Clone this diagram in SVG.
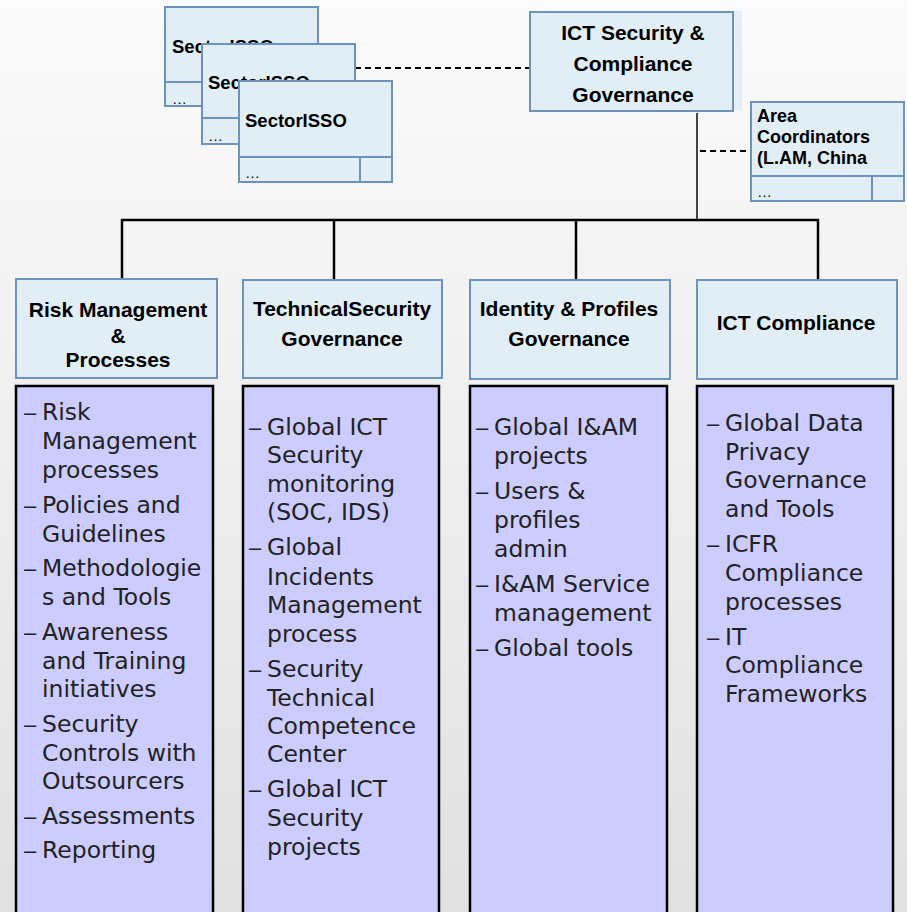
<svg xmlns="http://www.w3.org/2000/svg" width="907" height="912" viewBox="0 0 907 912">
<defs>
<linearGradient id="bg" x1="0" y1="0" x2="0" y2="1">
<stop offset="0" stop-color="#fbfbfb"/>
<stop offset="1" stop-color="#e1e1e1"/>
</linearGradient>
</defs>
<style>
.hbox{fill:#e1eef6;stroke:#6d93bd;stroke-width:2}
.cbox{fill:#ccccff;stroke:#000;stroke-width:2.5}
.ht{font-family:"Liberation Sans",Arial,sans-serif;font-weight:bold;font-size:21px;fill:#000;text-anchor:middle}
.st{font-family:"Liberation Sans",Arial,sans-serif;font-weight:bold;font-size:18.5px;fill:#000}
.at{font-family:"Liberation Sans",Arial,sans-serif;font-weight:bold;font-size:18px;fill:#000}
.el{font-family:"Liberation Sans",Arial,sans-serif;font-size:15px;fill:#000}
.ct{font-family:"DejaVu Sans",Verdana,sans-serif;font-size:23.5px;fill:#222}
.d{font-family:"Liberation Sans",Arial,sans-serif;font-size:22px}
.solid{stroke:#000;stroke-width:2.5;fill:none}
.dash{stroke:#000;stroke-width:2;stroke-dasharray:6 4;fill:none}
</style>
<rect x="0" y="0" width="907" height="912" fill="url(#bg)"/>

<g id="connectors">
<line class="dash" x1="355" y1="68" x2="530" y2="68"/>
<line x1="697" y1="113" x2="697" y2="220" stroke="#444" stroke-width="2"/>
<line class="dash" x1="700" y1="151" x2="750" y2="151"/>
<line class="solid" x1="121" y1="220" x2="819" y2="220"/>
<line class="solid" x1="122" y1="219" x2="122" y2="279"/>
<line class="solid" x1="334" y1="219" x2="334" y2="280"/>
<line class="solid" x1="576" y1="219" x2="576" y2="280"/>
<line class="solid" x1="818" y1="219" x2="818" y2="280"/>
</g>

<g id="sector1">
<rect class="hbox" x="165" y="7" width="153" height="99"/>
<line x1="165" y1="82" x2="318" y2="82" stroke="#6d93bd" stroke-width="2"/>
<line x1="286" y1="82" x2="286" y2="106" stroke="#6d93bd" stroke-width="2"/>
<text class="st" x="172" y="53">SectorISSO</text>
<text class="el" x="172" y="104">…</text>
</g>
<g id="sector2">
<rect class="hbox" x="202" y="44" width="153" height="100"/>
<line x1="202" y1="118" x2="355" y2="118" stroke="#6d93bd" stroke-width="2"/>
<line x1="323" y1="118" x2="323" y2="144" stroke="#6d93bd" stroke-width="2"/>
<text class="st" x="208" y="89">SectorISSO</text>
<text class="el" x="208" y="141">…</text>
</g>
<g id="sector3">
<rect class="hbox" x="239" y="81" width="153" height="101"/>
<line x1="239" y1="157" x2="392" y2="157" stroke="#6d93bd" stroke-width="2"/>
<line x1="360" y1="157" x2="360" y2="182" stroke="#6d93bd" stroke-width="2"/>
<text class="st" x="245" y="127">SectorISSO</text>
<text class="el" x="245" y="178">…</text>
</g>

<g id="ict-governance">
<rect x="536" y="11" width="206" height="99" fill="#e4eef5"/>
<rect class="hbox" x="530" y="12" width="203" height="99"/>
<text class="ht" x="633" y="40">ICT Security &amp;</text>
<text class="ht" x="633" y="71">Compliance</text>
<text class="ht" x="633" y="102">Governance</text>
</g>

<g id="area-coordinators">
<rect class="hbox" x="751" y="102" width="153" height="99"/>
<line x1="751" y1="176" x2="904" y2="176" stroke="#6d93bd" stroke-width="2"/>
<line x1="872" y1="176" x2="872" y2="201" stroke="#6d93bd" stroke-width="2"/>
<text class="at" x="757" y="122">Area</text>
<text class="at" x="757" y="143">Coordinators</text>
<text class="at" x="757" y="164">(L.AM, China</text>
<text class="el" x="757" y="197">…</text>
</g>

<g id="risk-header">
<rect class="hbox" x="16" y="279" width="201" height="99"/>
<text class="ht" x="118" y="317">Risk Management</text>
<text class="ht" x="118" y="343">&amp;</text>
<text class="ht" x="118" y="367">Processes</text>
</g>
<g id="tech-header">
<rect class="hbox" x="243" y="280" width="199" height="98"/>
<text class="ht" x="342" y="316">TechnicalSecurity</text>
<text class="ht" x="342" y="346">Governance</text>
</g>
<g id="identity-header">
<rect class="hbox" x="470" y="280" width="200" height="99"/>
<text class="ht" x="569" y="316">Identity &amp; Profiles</text>
<text class="ht" x="569" y="346">Governance</text>
</g>
<g id="compliance-header">
<rect class="hbox" x="697" y="280" width="200" height="99"/>
<text class="ht" x="796" y="330">ICT Compliance</text>
</g>

<g id="risk-content">
<rect class="cbox" x="16" y="386" width="197" height="540"/>
<text class="ct">
<tspan class="d" x="24" y="420">–</tspan><tspan x="42" y="420">Risk</tspan>
<tspan x="42" y="449">Management</tspan>
<tspan x="42" y="478">processes</tspan>
<tspan class="d" x="24" y="513">–</tspan><tspan x="42" y="513">Policies and</tspan>
<tspan x="42" y="542">Guidelines</tspan>
<tspan class="d" x="24" y="576">–</tspan><tspan x="42" y="576">Methodologie</tspan>
<tspan x="42" y="605">s and Tools</tspan>
<tspan class="d" x="24" y="640">–</tspan><tspan x="42" y="640">Awareness</tspan>
<tspan x="42" y="669">and Training</tspan>
<tspan x="42" y="697">initiatives</tspan>
<tspan class="d" x="24" y="732">–</tspan><tspan x="42" y="732">Security</tspan>
<tspan x="42" y="761">Controls with</tspan>
<tspan x="42" y="789">Outsourcers</tspan>
<tspan class="d" x="24" y="824">–</tspan><tspan x="42" y="824">Assessments</tspan>
<tspan class="d" x="24" y="858">–</tspan><tspan x="42" y="858">Reporting</tspan>
</text>
</g>

<g id="tech-content">
<rect class="cbox" x="243" y="386" width="196" height="540"/>
<text class="ct">
<tspan class="d" x="249" y="435">–</tspan><tspan x="267" y="435">Global ICT</tspan>
<tspan x="267" y="463">Security</tspan>
<tspan x="267" y="492">monitoring</tspan>
<tspan x="267" y="520">(SOC, IDS)</tspan>
<tspan class="d" x="249" y="555">–</tspan><tspan x="267" y="555">Global</tspan>
<tspan x="267" y="585">Incidents</tspan>
<tspan x="267" y="613">Management</tspan>
<tspan x="267" y="642">process</tspan>
<tspan class="d" x="249" y="677">–</tspan><tspan x="267" y="677">Security</tspan>
<tspan x="267" y="706">Technical</tspan>
<tspan x="267" y="734">Competence</tspan>
<tspan x="267" y="762">Center</tspan>
<tspan class="d" x="249" y="797">–</tspan><tspan x="267" y="797">Global ICT</tspan>
<tspan x="267" y="826">Security</tspan>
<tspan x="267" y="855">projects</tspan>
</text>
</g>

<g id="identity-content">
<rect class="cbox" x="470" y="386" width="197" height="540"/>
<text class="ct">
<tspan class="d" x="476" y="435">–</tspan><tspan x="494" y="435">Global I&amp;AM</tspan>
<tspan x="494" y="464">projects</tspan>
<tspan class="d" x="476" y="499">–</tspan><tspan x="494" y="499">Users &amp;</tspan>
<tspan x="494" y="528">profiles</tspan>
<tspan x="494" y="557">admin</tspan>
<tspan class="d" x="476" y="592">–</tspan><tspan x="494" y="592">I&amp;AM Service</tspan>
<tspan x="494" y="621">management</tspan>
<tspan class="d" x="476" y="656">–</tspan><tspan x="494" y="656">Global tools</tspan>
</text>
</g>

<g id="compliance-content">
<rect class="cbox" x="697" y="386" width="196" height="540"/>
<text class="ct">
<tspan class="d" x="707" y="431">–</tspan><tspan x="725" y="431">Global Data</tspan>
<tspan x="725" y="460">Privacy</tspan>
<tspan x="725" y="488">Governance</tspan>
<tspan x="725" y="517">and Tools</tspan>
<tspan class="d" x="707" y="552">–</tspan><tspan x="725" y="552">ICFR</tspan>
<tspan x="725" y="581">Compliance</tspan>
<tspan x="725" y="610">processes</tspan>
<tspan class="d" x="707" y="645">–</tspan><tspan x="725" y="645">IT</tspan>
<tspan x="725" y="673">Compliance</tspan>
<tspan x="725" y="702">Frameworks</tspan>
</text>
</g>
</svg>
